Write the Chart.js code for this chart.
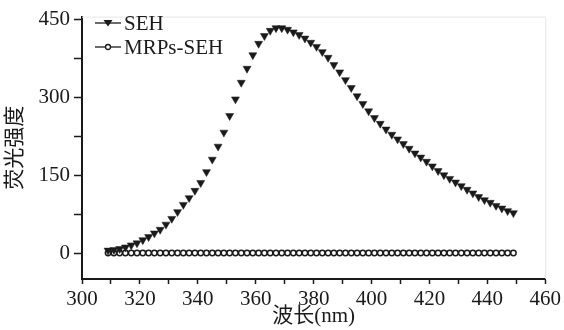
<!DOCTYPE html>
<html>
<head>
<meta charset="utf-8">
<script src="https://cdn.jsdelivr.net/npm/chart.js@4"></script>
<style>
  html, body { margin: 0; padding: 0; background: #fff; }
  #wrap { width: 564px; height: 330px; }
</style>
</head>
<body>
<div id="wrap"><canvas id="myChart" width="564" height="330"></canvas></div>
<script>
// wavelength (nm)
const wavelengths = [309, 311, 313, 315, 317, 319, 321, 323, 325, 327, 329, 331, 333, 335, 337, 339, 341, 343, 345, 347,
  349, 351, 353, 355, 357, 359, 361, 363, 365, 367, 369, 371, 373, 375, 377, 379, 381, 383, 385, 387,
  389, 391, 393, 395, 397, 399, 401, 403, 405, 407, 409, 411, 413, 415, 417, 419, 421, 423, 425, 427,
  429, 431, 433, 435, 437, 439, 441, 443, 445, 447, 449]

const sehValues = [5, 6, 8, 11, 15, 19, 25, 31, 38, 45, 55, 66, 79, 93, 106, 120, 135, 156, 180, 205,
  232, 264, 296, 328, 355, 381, 403, 418, 428, 433, 433, 430, 425, 420, 413, 405, 397, 387, 376, 362,
  348, 333, 318, 302, 287, 273, 260, 249, 238, 228, 219, 210, 201, 192, 184, 176, 167, 158, 150, 143,
  136, 129, 122, 115, 108, 102, 97, 91, 86, 81, 77]

const mrpsValues = [0, 0, 0, 0, 0, 0, 0, 0, 0, 0, 0, 0, 0, 0, 0, 0, 0, 0, 0, 0,
  0, 0, 0, 0, 0, 0, 0, 0, 0, 0, 0, 0, 0, 0, 0, 0, 0, 0, 0, 0,
  0, 0, 0, 0, 0, 0, 0, 0, 0, 0, 0, 0, 0, 0, 0, 0, 0, 0, 0, 0,
  0, 0, 0, 0, 0, 0, 0, 0, 0, 0, 0]

const seriesNames = ['SEH', 'MRPs-SEH']
const xTicks = [300, 310, 320, 330, 340, 350, 360, 370, 380, 390, 400, 410, 420, 430, 440, 450, 460]
const yTicks = [0, 75, 150, 225, 300, 375, 450]
const xTitle = '波长(nm)'
const yTitle = '荧光强度'

const serif = "'Liberation Serif', 'Noto Sans CJK SC', serif"
const ink = '#1a1a1a'

// legend drawn by hand: short line + marker + name
const legendPlugin = {
  id: 'lineLegend',
  afterDraw(chart){
    const ctx = chart.ctx
    const rows = [
      {name: seriesNames[0], y: 23, style: 'tri'},
      {name: seriesNames[1], y: 47, style: 'circle'}
    ]
    ctx.save()
    rows.forEach(r=>{
      ctx.strokeStyle = ink
      ctx.lineWidth = 1.3
      ctx.beginPath()
      ctx.moveTo(95, r.y)
      ctx.lineTo(121, r.y)
      ctx.stroke()
      if (r.style === 'tri') {
        ctx.fillStyle = ink
        ctx.beginPath()
        ctx.moveTo(103.5, r.y - 3)
        ctx.lineTo(112.5, r.y - 3)
        ctx.lineTo(108, r.y + 3.5)
        ctx.closePath()
        ctx.fill()
      } else {
        ctx.fillStyle = '#fff'
        ctx.beginPath()
        ctx.arc(108, r.y, 2.5, 0, Math.PI * 2)
        ctx.fill()
        ctx.stroke()
      }
      ctx.fillStyle = ink
      ctx.font = "21px " + serif
      ctx.textBaseline = 'middle'
      ctx.textAlign = 'left'
      ctx.fillText(r.name, 124, r.y + 1)
    })
    ctx.restore()
  }
}

// faint frame on top and right
const framePlugin = {
  id: 'frame',
  beforeDatasetsDraw(chart){
    const {ctx, chartArea} = chart
    ctx.save()
    ctx.strokeStyle = '#e6e6e6'
    ctx.lineWidth = 1
    ctx.beginPath()
    ctx.moveTo(chartArea.left, chartArea.top + 0.5)
    ctx.lineTo(chartArea.right + 0.5, chartArea.top + 0.5)
    ctx.lineTo(chartArea.right + 0.5, chartArea.bottom)
    ctx.stroke()
    ctx.restore()
  }
}

const ctx = document.getElementById('myChart').getContext('2d')
const myChart = new Chart(ctx, {
  type: 'line',
  data: {
    datasets: [{
      label: seriesNames[0],
      data: wavelengths.map((w, i) => ({x: w, y: sehValues[i]})),
      showLine: false,
      pointStyle: 'triangle',
      rotation: 180,
      pointRadius: 4.6,
      backgroundColor: ink,
      borderColor: ink,
      borderWidth: 0.5
    }, {
      label: seriesNames[1],
      data: wavelengths.map((w, i) => ({x: w, y: mrpsValues[i]})),
      showLine: false,
      pointStyle: 'circle',
      pointRadius: 2.7,
      backgroundColor: '#fff',
      borderColor: ink,
      borderWidth: 1.5
    }]
  },
  options: {
    responsive: false,
    animation: false,
    layout: {padding: {left: 0, top: 13, right: 16, bottom: 0}},
    plugins: {legend: {display: false}, tooltip: {enabled: false}},
    scales: {
      x: {
        type: 'linear',
        min: 300,
        max: 460,
        afterFit: s => { s.height = 51 },
        afterBuildTicks: s => { s.ticks = xTicks.map(v => ({value: v})) },
        border: {display: true, color: ink, width: 2},
        grid: {display: true, drawOnChartArea: false, color: ink, tickLength: 5, tickWidth: 1.5},
        ticks: {
          autoSkip: false, maxRotation: 0, padding: 3, color: ink,
          font: {family: serif, size: 21},
          callback: v => (v % 20 === 0 ? String(v) : '')
        },
        title: {display: true, text: xTitle, color: ink, font: {family: serif, size: 21}, padding: {top: 0, bottom: 1}}
      },
      y: {
        type: 'linear',
        min: -50,
        max: 455,
        afterFit: s => { s.width = 82 },
        afterBuildTicks: s => { s.ticks = yTicks.map(v => ({value: v})) },
        border: {display: true, color: ink, width: 2},
        grid: {display: true, drawOnChartArea: false, color: ink, tickLength: 8, tickWidth: 1.5},
        ticks: {
          autoSkip: false, padding: 4, color: ink,
          font: {family: serif, size: 21},
          callback: v => (v % 150 === 0 ? String(v) : '')
        },
        title: {display: true, text: yTitle, color: ink, font: {family: serif, size: 21}, padding: {top: 3, bottom: 4}}
      }
    }
  },
  plugins: [framePlugin, legendPlugin]
})
</script>
</body>
</html>
